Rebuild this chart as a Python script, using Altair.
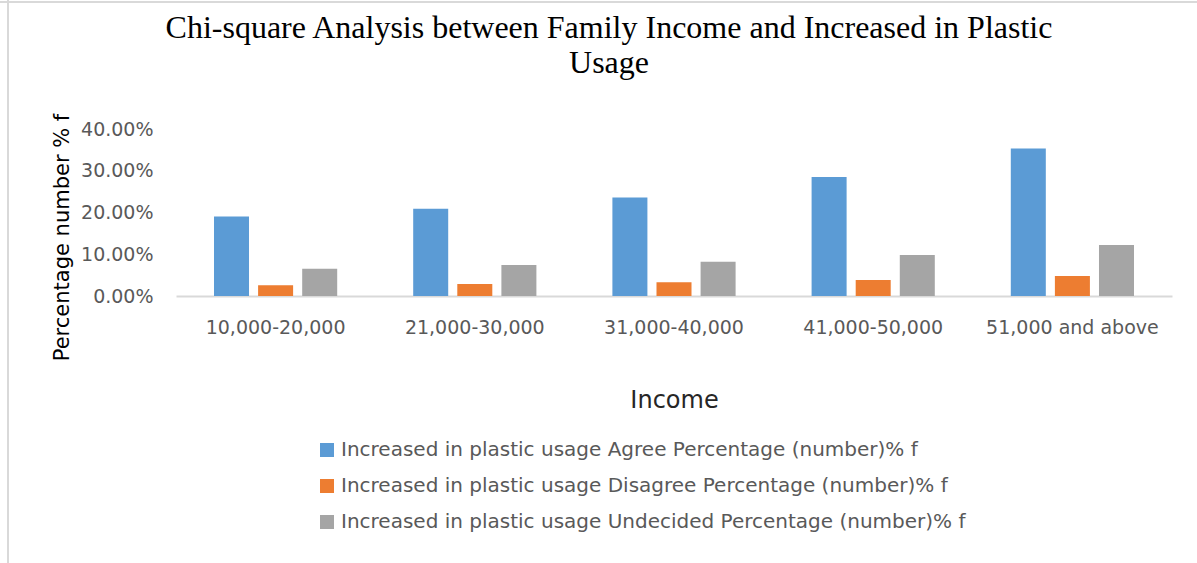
import altair as alt
import pandas as pd

title_lines = ["Chi-square Analysis between Family Income and Increased in Plastic", "Usage"]
categories = ["10,000-20,000", "21,000-30,000", "31,000-40,000", "41,000-50,000", "51,000 and above"]
series = [
    "Increased in plastic usage Agree Percentage (number)% f",
    "Increased in plastic usage Disagree Percentage (number)% f",
    "Increased in plastic usage Undecided Percentage (number)% f",
]
agree = [19.05, 20.9, 23.6, 28.5, 35.3]
disagree = [2.55, 2.9, 3.3, 3.85, 4.8]
undecided = [6.55, 7.4, 8.2, 9.8, 12.2]
colors = ["#5B9BD5", "#ED7D31", "#A5A5A5"]
y_ticks = [0, 0.1, 0.2, 0.3, 0.4]

rows = []
for s, vals in zip(series, [agree, disagree, undecided]):
    for c, v in zip(categories, vals):
        rows.append({"Income": c, "Series": s, "Value": v / 100})
df = pd.DataFrame(rows)

tick_font = "DejaVu Sans"

bars = alt.Chart(df).mark_bar().encode(
    x=alt.X(
        "Income:N",
        sort=categories,
        scale=alt.Scale(paddingInner=0.3815, paddingOuter=0.19075),
        axis=alt.Axis(
            title="Income",
            labelAngle=0,
            labelFont=tick_font,
            labelFontSize=19,
            labelColor="#595959",
            labelPadding=22,
            ticks=False,
            tickSize=0,
            domainColor="#D9D9D9",
            domainWidth=2,
            titleFont=tick_font,
            titleFontSize=24,
            titleFontWeight="normal",
            titleColor="#262626",
            titleY=104,
            titleBaseline="middle",
            labelLimit=0,
        ),
    ),
    xOffset=alt.XOffset("Series:N", sort=series, scale=alt.Scale(paddingInner=0.206, paddingOuter=0)),
    y=alt.Y(
        "Value:Q",
        scale=alt.Scale(domain=[0, 0.4], nice=False),
        axis=alt.Axis(
            title="Percentage number % f",
            values=y_ticks,
            format=".2%",
            grid=False,
            domain=False,
            ticks=False,
            tickSize=0,
            labelFont=tick_font,
            labelFontSize=19,
            labelColor="#595959",
            labelPadding=23,
            titleFont=tick_font,
            titleFontSize=21,
            titleFontWeight="normal",
            titleColor="#000000",
            titleX=-114,
            titleY=108,
            titleBaseline="middle",
            titleAlign="center",
        ),
    ),
    color=alt.Color(
        "Series:N",
        sort=series,
        scale=alt.Scale(domain=series, range=colors),
        legend=alt.Legend(
            title=None,
            orient="none",
            legendX=141,
            legendY=311,
            direction="vertical",
            symbolType="square",
            symbolSize=196,
            symbolStrokeWidth=0,
            labelFont=tick_font,
            labelFontSize=20,
            labelColor="#595959",
            labelLimit=0,
            labelOffset=4,
            rowPadding=16,
        ),
    ),
)

frame = pd.DataFrame({"k": [0]})
left_border = alt.Chart(frame).mark_rule(color="#D9D9D9", strokeWidth=2).encode(
    x=alt.value(-168), y=alt.value(-129), y2=alt.value(434)
)
top_border = alt.Chart(frame).mark_rule(color="#D9D9D9", strokeWidth=2).encode(
    x=alt.value(-176), x2=alt.value(1021), y=alt.value(-127)
)

title_df = pd.DataFrame({"t": ["\n".join(title_lines)]})
title_text = alt.Chart(title_df).mark_text(
    font="Liberation Serif",
    fontSize=32,
    color="#000000",
    align="center",
    baseline="top",
    lineBreak="\n",
    lineHeight=35,
).encode(
    text="t:N",
    x=alt.value(433),
    y=alt.value(-116),
)

chart = alt.layer(left_border, top_border, bars, title_text).properties(
    width=996,
    height=167,
    autosize=alt.AutoSizeParams(type="none"),
    padding={"left": 176, "top": 129, "right": 25, "bottom": 267},
    background="white",
).configure_view(stroke=None)

chart.save("out.html", embed_options={"renderer": "svg", "actions": False})
